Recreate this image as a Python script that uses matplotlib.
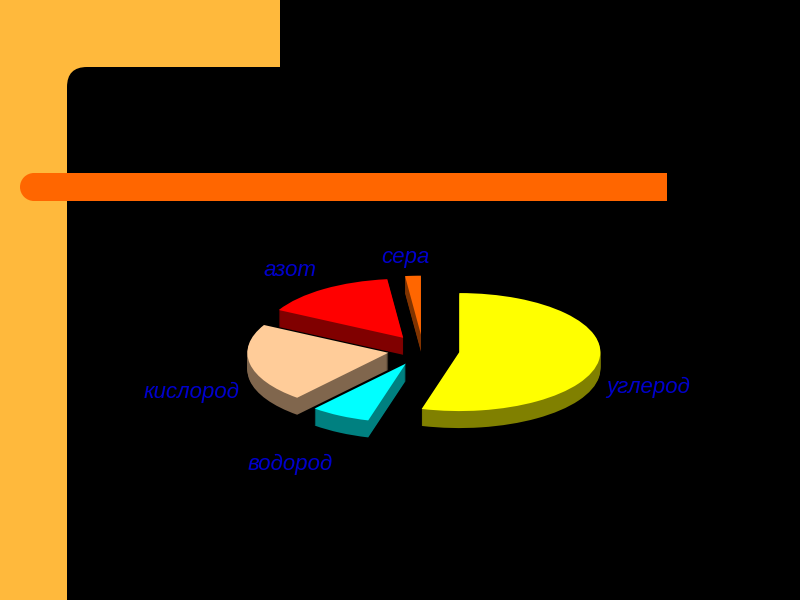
import matplotlib
matplotlib.use('Agg')
import matplotlib.pyplot as plt
from matplotlib.patches import Rectangle, Circle, FancyBboxPatch

# данные диаграммы
names = ['углерод', 'водород', 'кислород', 'азот', 'сера']
values = [54.3, 6.9, 21.6, 15.4, 1.8]
top_colors = ['#FFFF00', '#00FFFF', '#FFCC99', '#FF0000', '#FF6600']
side_colors = ['#808000', '#008080', '#80664D', '#800000', '#803300']
explode_val = [0.26, 0.26, 0.25, 0.25, 0.26]

# подписи, пиксели картинки
label_x = [606, 248, 144, 264, 381]
label_y = [387, 464, 392, 271, 257]

orange = '#FFB93C'
bar_color = '#FF6600'

fig = plt.figure(figsize=(8, 6), dpi=100, facecolor='black')

# фон в пикселях
bg = fig.add_axes([0, 0, 1, 1])
bg.set_xlim(0, 800)
bg.set_ylim(600, 0)
bg.axis('off')
bg.add_patch(Rectangle((0, 0), 280, 100, fc=orange, ec='none'))
bg.add_patch(Rectangle((0, 0), 67, 600, fc=orange, ec='none'))
bg.add_patch(FancyBboxPatch((67 + 20, 67 + 20), 800, 600, boxstyle='round,pad=20,rounding_size=20',
                            fc='black', ec='none'))
# полоса
bg.add_patch(Circle((34, 187), 14, fc=bar_color, ec='none'))
bg.add_patch(Rectangle((34, 173), 633, 28, fc=bar_color, ec='none'))

# круговая диаграмма, центр (423, 350), радиусы 141 и 59 пикселей
ax = fig.add_axes([0, 0, 1, 1])
ax.patch.set_alpha(0)
depth = 17
for d in range(depth, 0, -1):
    ax.pie(values, explode=explode_val, colors=side_colors, startangle=90, counterclock=False,
           center=(0, -d / 59), wedgeprops={'linewidth': 0})
ax.pie(values, explode=explode_val, colors=top_colors, startangle=90, counterclock=False,
       wedgeprops={'linewidth': 0})
ax.set_aspect('auto')
ax.set_xlim(-423 / 141, 377 / 141)
ax.set_ylim(-250 / 59, 350 / 59)
ax.axis('off')

for name, x, y in zip(names, label_x, label_y):
    bg.text(x, y, name, color='#0000CC', fontsize=16, style='italic', family='Liberation Sans',
            ha='left', va='center', zorder=5)

fig.savefig('out.png', dpi=100, facecolor='black')
